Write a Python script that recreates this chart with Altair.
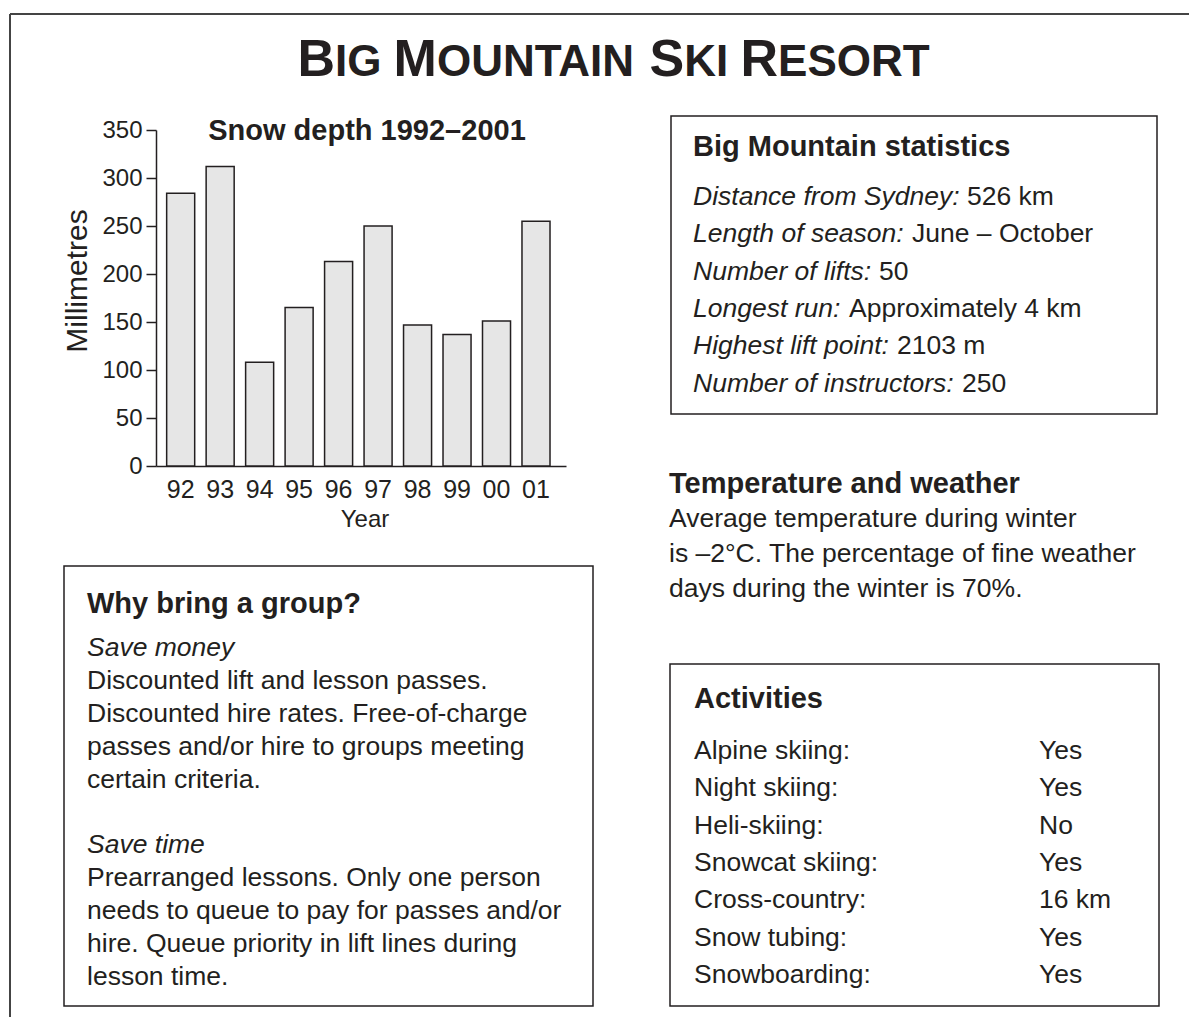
import altair as alt
import pandas as pd

# ---------------- data ----------------
years = ["92", "93", "94", "95", "96", "97", "98", "99", "00", "01"]
depth_mm = [284, 312, 108, 165, 213, 250, 147, 137, 151, 255]
y_ticks = [0, 50, 100, 150, 200, 250, 300, 350]

main_title = "BIG MOUNTAIN SKI RESORT"
chart_title = "Snow depth 1992–2001"
y_title = "Millimetres"
x_title = "Year"

stats_heading = "Big Mountain statistics"
stats_labels = ["Distance from Sydney:", "Length of season:", "Number of lifts:",
                "Longest run:", "Highest lift point:", "Number of instructors:"]
stats_values = ["526 km", "June – October", "50", "Approximately 4 km", "2103 m", "250"]

temp_heading = "Temperature and weather"
temp_lines = ["Average temperature during winter",
              "is –2°C. The percentage of fine weather",
              "days during the winter is 70%."]

group_heading = "Why bring a group?"
group_sub1 = "Save money"
group_text1 = ["Discounted lift and lesson passes.",
               "Discounted hire rates. Free-of-charge",
               "passes and/or hire to groups meeting",
               "certain criteria."]
group_sub2 = "Save time"
group_text2 = ["Prearranged lessons. Only one person",
               "needs to queue to pay for passes and/or",
               "hire. Queue priority in lift lines during",
               "lesson time."]

act_heading = "Activities"
act_labels = ["Alpine skiing:", "Night skiing:", "Heli-skiing:", "Snowcat skiing:",
              "Cross-country:", "Snow tubing:", "Snowboarding:"]
act_values = ["Yes", "Yes", "No", "Yes", "16 km", "Yes", "Yes"]

# ---------------- layout / style ----------------
W, H = 1181, 1009
O = 8  # page margin: image coords -> chart coords
FONT = "Liberation Sans, Arial, Helvetica, sans-serif"
INK = "#231f20"
BODY = 26.5
HEAD = 29
BAR_FILL = "#e6e6e6"

dummy = pd.DataFrame({"d": [0]})


def txt(text, x, y, size=BODY, weight="normal", style="normal", align="left",
        angle=0, lh=None, baseline="alphabetic"):
    kw = dict(text=text, font=FONT, fontSize=size, fontWeight=weight,
              fontStyle=style, align=align, baseline=baseline, color=INK)
    if angle:
        kw["angle"] = angle
    if lh:
        kw["lineHeight"] = lh
    return alt.Chart(dummy).mark_text(**kw).encode(
        x=alt.value(x - O), y=alt.value(y - O))


def box(x1, y1, x2, y2):
    return alt.Chart(dummy).mark_rect(
        fill="transparent", stroke=INK, strokeWidth=1.5).encode(
        x=alt.value(x1 - O), x2=alt.value(x2 - O),
        y=alt.value(y1 - O), y2=alt.value(y2 - O))


layers = []

# outer border (top and left visible)
layers.append(alt.Chart(dummy).mark_rule(color="#444", strokeWidth=2).encode(
    x=alt.value(10 - O), x2=alt.value(W), y=alt.value(14 - O)))
layers.append(alt.Chart(dummy).mark_rule(color="#444", strokeWidth=2).encode(
    x=alt.value(10 - O), y=alt.value(14 - O), y2=alt.value(H)))

# main title in small caps
AB = {'B': 722, 'I': 278, 'G': 778, 'M': 833, 'O': 778, 'U': 722, 'N': 722,
      'T': 611, 'A': 722, 'S': 667, 'K': 722, 'R': 722, 'E': 667, ' ': 278}
BIG, SMALL = 52, 44
segs = []
words = main_title.split(" ")
for wi, wd in enumerate(words):
    segs.append((wd[0], BIG))
    segs.append((wd[1:], SMALL))
    if wi < len(words) - 1:
        segs.append((" ", SMALL))
total = sum(sum(AB[c] for c in s) * sz / 1000 for s, sz in segs)
cx = 613.5 - total / 2
for s, sz in segs:
    if s.strip():
        layers.append(txt(s, cx, 76, size=sz, weight="bold"))
    cx += sum(AB[c] for c in s) * sz / 1000

# bar chart
bars = alt.Chart(pd.DataFrame({"year": years, "depth": depth_mm})).mark_bar(
    fill=BAR_FILL, stroke=INK, strokeWidth=1.5).encode(
    x=alt.X("year:N", sort=years,
            scale=alt.Scale(range=[156 - O, 566 - O], paddingInner=0.29,
                            paddingOuter=0.3375, align=0.4),
            axis=alt.Axis(title=None, orient="bottom", offset=-(H - (466 - O)),
                          ticks=False, tickSize=0, labelPadding=11,
                          labelFontSize=25, labelAngle=0, labelFont=FONT,
                          labelColor=INK, domainColor=INK, domainWidth=1.5)),
    y=alt.Y("depth:Q",
            scale=alt.Scale(domain=[0, 350], range=[466 - O, 130 - O], nice=False),
            axis=alt.Axis(title=None, orient="left", offset=-(156 - O),
                          values=y_ticks, tickSize=10, tickWidth=1.5,
                          tickColor=INK, domainColor=INK, domainWidth=1.5,
                          labelPadding=4, labelFontSize=24, labelFont=FONT,
                          labelColor=INK, labelFlush=False, labelOverlap=False,
                          grid=False)),
)
layers.append(bars)
layers.append(txt(chart_title, 367, 140, size=29, weight="bold", align="center"))
layers.append(txt(y_title, 78, 281, size=30, align="center", angle=270,
                  baseline="middle"))
layers.append(txt(x_title, 365, 527, size=24, align="center"))

# statistics box
layers.append(box(671, 116, 1157, 414))
layers.append(txt(stats_heading, 693, 156, size=HEAD, weight="bold"))
stat_val_x = [967, 912, 879, 849, 897, 962]
for i, (lab, val) in enumerate(zip(stats_labels, stats_values)):
    yb = 205 + 37.3 * i
    layers.append(txt(lab, 693, yb, style="italic"))
    layers.append(txt(val, stat_val_x[i], yb))

# temperature and weather
layers.append(txt(temp_heading, 669, 493, size=HEAD, weight="bold"))
layers.append(txt(temp_lines, 669, 527, lh=35))

# why bring a group box
layers.append(box(64, 566, 593, 1006))
layers.append(txt(group_heading, 87, 613, size=HEAD, weight="bold"))
layers.append(txt(group_sub1, 87, 656, style="italic"))
layers.append(txt(group_text1, 87, 689, lh=33))
layers.append(txt(group_sub2, 87, 853, style="italic"))
layers.append(txt(group_text2, 87, 886, lh=33))

# activities box
layers.append(box(670, 664, 1159, 1006))
layers.append(txt(act_heading, 694, 708, size=HEAD, weight="bold"))
layers.append(txt(act_labels, 694, 759, lh=37.3))
layers.append(txt(act_values, 1039, 759, lh=37.3))

chart = alt.layer(*layers).properties(
    width=W, height=H, padding=0,
    autosize=alt.AutoSizeParams(type="none"),
    background="white",
).configure_view(strokeWidth=0)

chart.save("out.html", embed_options={"renderer": "svg", "actions": False})
